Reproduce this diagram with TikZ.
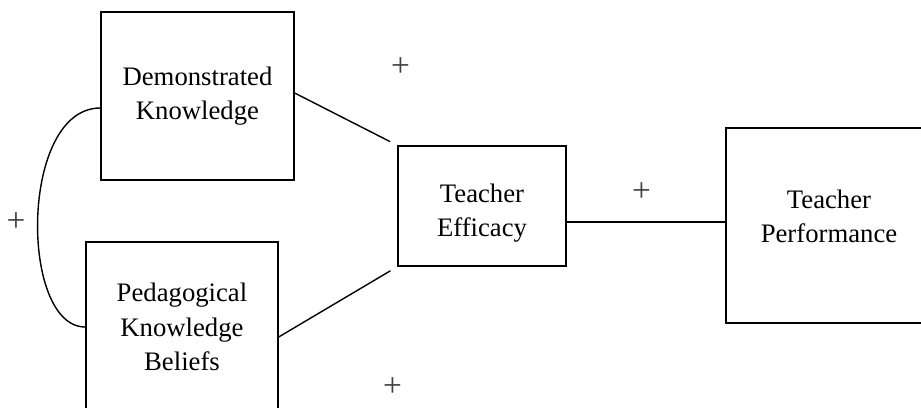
\documentclass[tikz,border=0pt]{standalone}
\usepackage{fontspec}
\setmainfont{Liberation Serif}
\usetikzlibrary{positioning, calc}

\begin{document}
\begin{tikzpicture}[
  x=0.02cm, y=-0.02cm,
  font=\fontsize{15.2}{19.6}\selectfont,
  concept/.style={
    draw=black, line width=0.8pt, align=center, inner sep=2pt
  },
  link/.style={line width=0.8pt, draw=black},
  sign/.style={text=black!75, inner sep=0pt, font=\fontsize{19}{19}\selectfont},
]
\useasboundingbox (0,0) rectangle (921,407);

\node[concept, minimum width=3.86cm, minimum height=3.36cm] (dk) at (197.5,96) {Demonstrated\\Knowledge};
\node[concept, minimum width=3.84cm, minimum height=3.4cm] (pkb) at (182,327) {Pedagogical\\Knowledge\\Beliefs};
\node[concept, minimum width=3.36cm, minimum height=2.4cm] (te) at (482,206) {\rule{0pt}{0.65cm}Teacher\\Efficacy};
\node[concept, minimum width=4.12cm, minimum height=3.9cm] (tp) at (829,225.5) {Teacher\\Performance\rule[-0.36cm]{0pt}{0pt}};

\node[sign] (s1) at (400.5,67) {+};
\node[sign] (s2) at (16,222.5) {+};
\node[sign] (s3) at (641.5,192) {+};
\node[sign] (s4) at (392.5,387) {+};

\draw[link] ([yshift=-0.24cm]dk.west) .. controls +(-81,0) and +(-66,0) .. (pkb.west);
\draw[link, shorten >=0.16cm] ([yshift=0.06cm]dk.east) -- (te.north west);
\draw[link, shorten >=0.16cm] ([yshift=-0.2cm]pkb.east) -- (te.south west);
\coordinate (tel) at ([yshift=-0.32cm]te.east);
\draw[link] (tel) -- (tel -| tp.west);

\end{tikzpicture}
\end{document}
